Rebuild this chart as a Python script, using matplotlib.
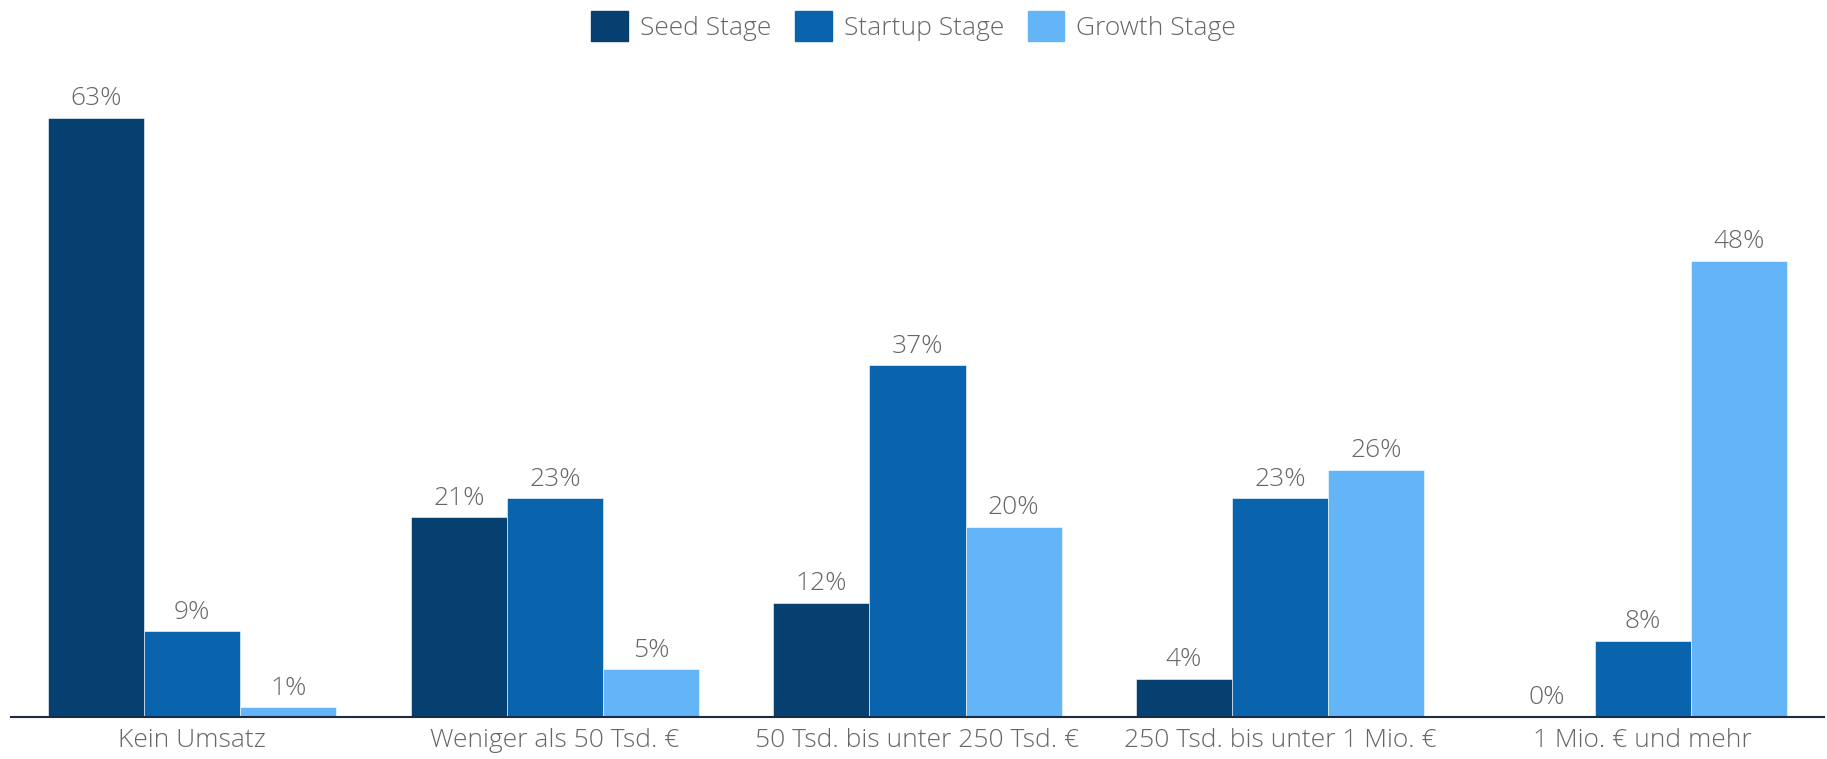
import matplotlib.pyplot as plt
import numpy as np
from matplotlib.patches import Patch

categories = ['Kein Umsatz', 'Weniger als 50 Tsd. €', '50 Tsd. bis unter 250 Tsd. €',
              '250 Tsd. bis unter 1 Mio. €', '1 Mio. € und mehr']
series = ['Seed Stage', 'Startup Stage', 'Growth Stage']
seed = [63, 21, 12, 4, 0]
startup = [9, 23, 37, 23, 8]
growth = [1, 5, 20, 26, 48]
colors = ['#064071', '#0964AD', '#63B5F8']

plt.rcParams['font.family'] = ['Open Sans', 'DejaVu Sans']
textcol = '#666666'

fig = plt.figure(figsize=(18.27, 7.59), dpi=100)
ax = fig.add_axes([11 / 1827, 42 / 759, 1813 / 1827, 637 / 759])

x = np.arange(len(categories))
w = 0.265
for i, (vals, col) in enumerate(zip([seed, startup, growth], colors)):
    pos = x + (i - 1) * w
    bars = ax.bar(pos, vals, width=w, color=col, edgecolor='white', linewidth=0.4)
    for b, v in zip(bars, vals):
        ax.text(b.get_x() + b.get_width() / 2, v + 0.7, f'{v}%', ha='center', va='bottom',
                fontsize=19, color=textcol, fontweight='light')

ax.set_xlim(-0.5, len(categories) - 0.5)
ax.set_ylim(0, 67)
ax.set_xticks(x)
ax.set_xticklabels(categories, fontsize=19, color=textcol, fontweight='light')
ax.tick_params(axis='x', length=0, pad=8)
ax.set_yticks([])
for s in ['top', 'right', 'left']:
    ax.spines[s].set_visible(False)
ax.spines['bottom'].set_color('#1b2b42')
ax.spines['bottom'].set_linewidth(1.5)

handles = [Patch(color=c) for c in colors]
leg = fig.legend(handles, series, loc='center', bbox_to_anchor=(0.5, 1 - 26 / 759), ncol=3,
                 frameon=False, fontsize=19, handlelength=1.4, handleheight=1.4,
                 columnspacing=0.9, handletextpad=0.45)
for t in leg.get_texts():
    t.set_color(textcol)
    t.set_fontweight('light')

fig.savefig('out.png', dpi=100)
